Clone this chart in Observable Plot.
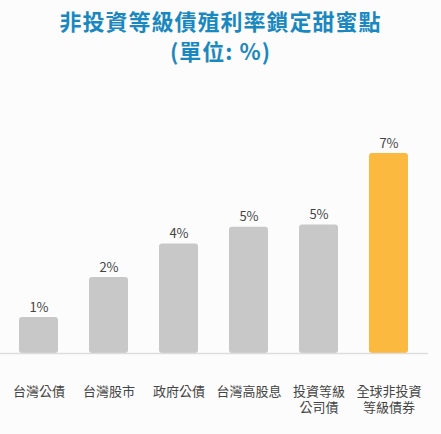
<!DOCTYPE html>
<html>
<head>
<meta charset="utf-8">
<script src="https://cdn.jsdelivr.net/npm/d3@7"></script>
<script src="https://cdn.jsdelivr.net/npm/@observablehq/plot@0.6"></script>
<style>
  html, body { margin: 0; padding: 0; background: #fcfcfc; }
  body { width: 441px; font-family: "Noto Sans CJK TC", "Noto Sans", sans-serif; }
  .title { text-align: center; color: #1a88c0; font-weight: bold; font-size: 22px; line-height: 30px; letter-spacing: 1px; }
  #t1 { padding-top: 5px; }
  #chart svg { display: block; background: transparent; }
</style>
</head>
<body>
<div class="title" id="t1">非投資等級債殖利率鎖定甜蜜點</div>
<div class="title" id="t2">(單位: %)</div>
<div id="chart"></div>
<script>
const categories = ["台灣公債", "台灣股市", "政府公債", "台灣高股息", "投資等級\n公司債", "全球非投資\n等級債券"];
const values = [1.26, 2.66, 3.83, 4.42, 4.50, 7.0];
const valueLabels = ["1%", "2%", "4%", "5%", "5%", "7%"];
const highlight = "全球非投資\n等級債券";

const data = categories.map((c, i) => ({category: c, value: values[i], label: valueLabels[i]}));

const chart = Plot.plot({
  width: 441,
  height: 369,
  marginLeft: 3,
  marginRight: 18,
  marginTop: 88,
  marginBottom: 81,
  style: {fontFamily: '"Noto Sans CJK TC", sans-serif', background: "transparent"},
  x: {domain: categories, paddingInner: 0.45, paddingOuter: 0.225, label: null},
  y: {domain: [0, 7], axis: null},
  marks: [
    Plot.barY(data, {
      x: "category", y: "value", rx: 3,
      fill: d => d.category === highlight ? "#fcb940" : "#c8c8c8"
    }),
    Plot.ruleY([0], {stroke: "#dddddd", strokeWidth: 1.5, insetLeft: -3, insetRight: -5}),
    Plot.text(data, {
      x: "category", y: "value", text: "label",
      lineAnchor: "bottom", dy: -6, fontSize: 13, fill: "#444"
    }),
    Plot.axisX({tickSize: 0, tickPadding: 30, fontSize: 13, fill: "#444", lineHeight: 1.3, label: null})
  ]
});
document.getElementById("chart").appendChild(chart);
</script>
</body>
</html>
